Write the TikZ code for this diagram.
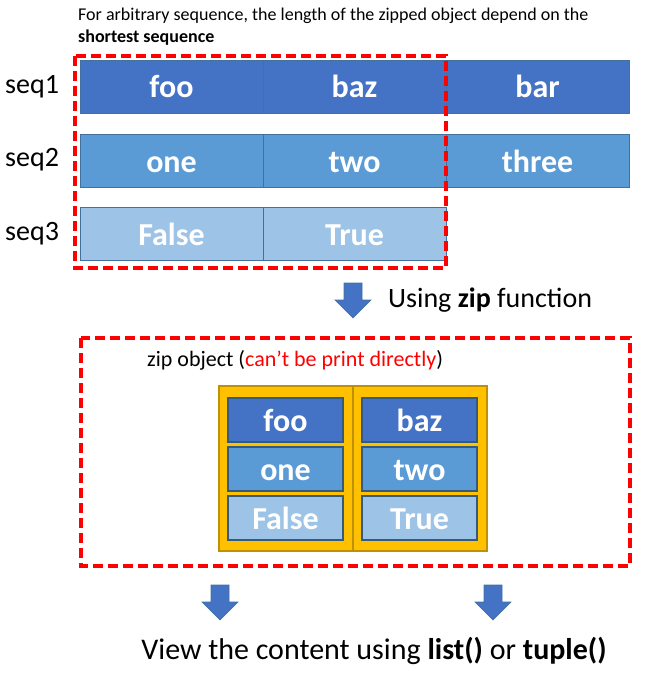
\documentclass[tikz,border=0pt]{standalone}
\usepackage{fontspec}
\setmainfont{Carlito}
\definecolor{dblue}{HTML}{4472C4}
\definecolor{mblue}{HTML}{5B9BD5}
\definecolor{lblue}{HTML}{9DC3E6}
\definecolor{bblue}{HTML}{41719C}
\definecolor{gold}{HTML}{FFC000}
\definecolor{dgold}{HTML}{BF9000}
\definecolor{rred}{HTML}{FF0000}
\tikzset{
  cell/.style={draw=bblue, line width=0.9pt, text=white, font=\fontsize{32}{34}\selectfont\bfseries, inner sep=0pt, text height=23pt, text depth=0pt},
  seqcell/.style={cell, minimum width=183pt, minimum height=53pt},
  zipcell/.style={cell, draw=bblue!80!black, line width=1.4pt, minimum width=115pt, minimum height=44pt},
  c1/.style={fill=dblue},
  c2/.style={fill=mblue},
  c3/.style={fill=lblue},
  redbox/.style={draw=rred, line width=3.5pt, dash pattern=on 10pt off 5pt},
  lbl/.style={font=\fontsize{28}{30}\selectfont, inner sep=0pt},
  blockarrow/.style={fill=dblue, draw=bblue, line width=0.6pt}
}
\begin{document}
\begin{tikzpicture}[x=1pt,y=-1pt]
\useasboundingbox (0,0) rectangle (661,682);
% top text
\node[anchor=west, inner sep=0pt, font=\fontsize{18}{20}\selectfont] (note1) at (78,16) {For arbitrary sequence, the length of the zipped object depend on the};
\node[anchor=west, inner sep=0pt, font=\fontsize{18}{20}\selectfont\bfseries] (note2) at (78,38) {shortest sequence};
% sequences
\node[seqcell,c1] (foo) at (171.5,86.5) {foo};
\node[seqcell,c1] (baz) at (354.5,86.5) {baz};
\node[seqcell,c1] (bar) at (537.5,86.5) {bar};
\node[seqcell,c2] (one) at (171.5,160.5) {one};
\node[seqcell,c2] (two) at (354.5,160.5) {two};
\node[seqcell,c2] (three) at (537.5,160.5) {three};
\node[seqcell,c3] (false) at (171.5,233.5) {False};
\node[seqcell,c3] (true) at (354.5,233.5) {True};
\node[lbl, anchor=west] (s1) at (5,87) {seq1};
\node[lbl, anchor=west] (s2) at (5,160) {seq2};
\node[lbl, anchor=west] (s3) at (5,234) {seq3};
\draw[redbox] (75,56) rectangle (446,268);
% arrow 1
\draw[blockarrow] (344,283) -- (362,283) -- (362,300) -- (371,300) -- (353,318) -- (335,300) -- (344,300) -- cycle;
\node[lbl, anchor=west] (using) at (388,300) {Using \textbf{zip} function};
% zip object box
\draw[redbox] (81,338) rectangle (630,566);
\node[anchor=west, inner sep=0pt, font=\fontsize{22}{24}\selectfont] (zipobj) at (147,360) {zip object (\textcolor{rred}{can’t be print directly})};
\node[draw=dgold, fill=gold, line width=1.2pt, minimum width=134pt, minimum height=165pt, inner sep=0pt] (gl) at (286,468.5) {};
\node[draw=dgold, fill=gold, line width=1.2pt, minimum width=134pt, minimum height=165pt, inner sep=0pt] (gr) at (420,468.5) {};
\node[zipcell,c1] (zfoo) at (285.5,420) {foo};
\node[zipcell,c2] (zone) at (285.5,469) {one};
\node[zipcell,c3] (zfalse) at (285.5,518) {False};
\node[zipcell,c1] (zbaz) at (419.5,420) {baz};
\node[zipcell,c2] (ztwo) at (419.5,469) {two};
\node[zipcell,c3] (ztrue) at (419.5,518) {True};
% bottom arrows
\draw[blockarrow] (211,585) -- (229,585) -- (229,602) -- (238,602) -- (220,620) -- (202,602) -- (211,602) -- cycle;
\draw[blockarrow] (484,585) -- (502,585) -- (502,602) -- (511,602) -- (493,620) -- (475,602) -- (484,602) -- cycle;
\node[inner sep=0pt, font=\fontsize{30}{32}\selectfont] (view) at (374,651) {View the content using \textbf{list()} or \textbf{tuple()}};
\end{tikzpicture}
\end{document}
